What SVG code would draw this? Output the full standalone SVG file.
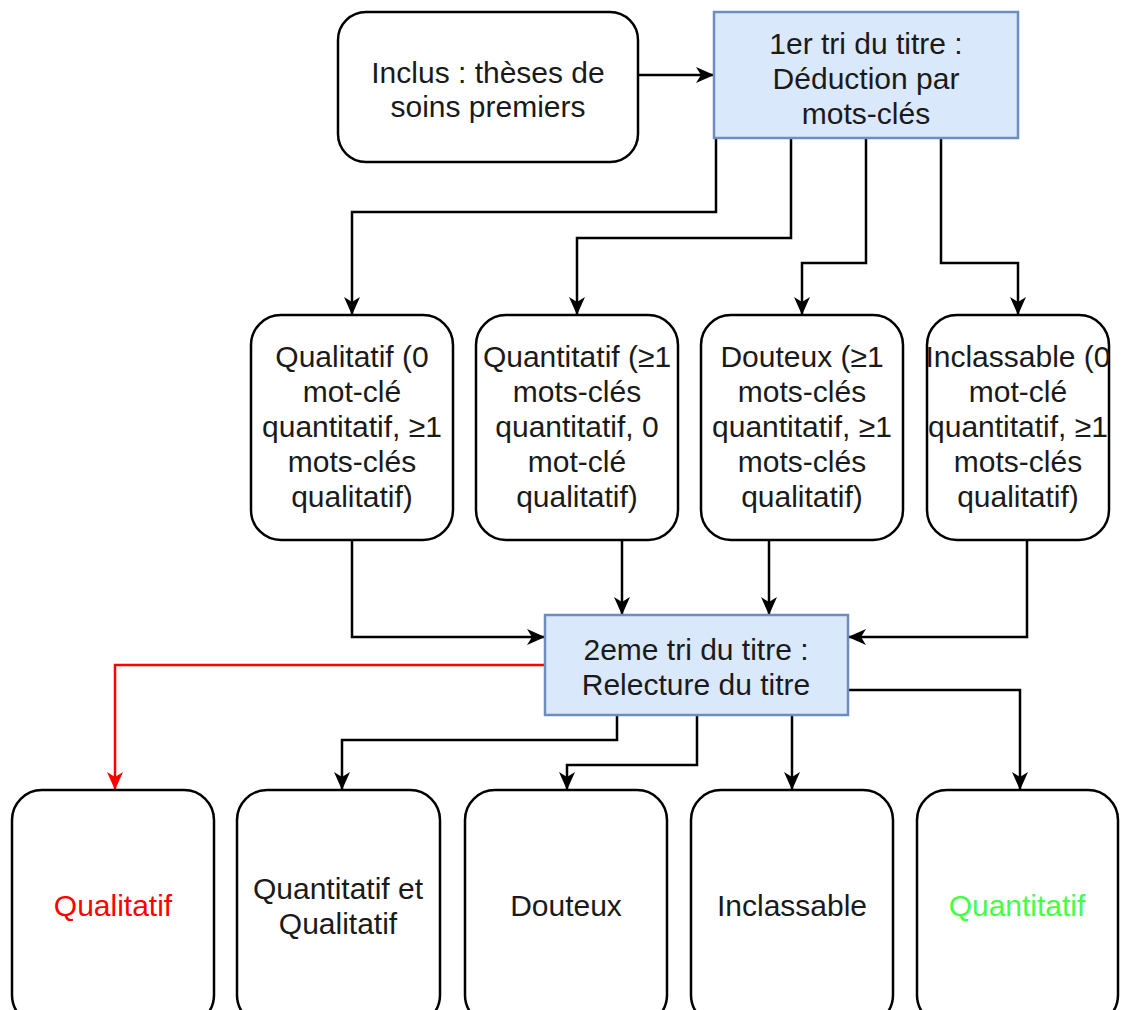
<svg xmlns="http://www.w3.org/2000/svg" width="1125" height="1010" viewBox="0 0 1125 1010">
<style>
.box{fill:#fff;stroke:#000;stroke-width:2.5}
.blue{fill:#dae8fc;stroke:#6c8ebf;stroke-width:2.5}
.t{font-family:"Liberation Sans",Arial,sans-serif;font-size:30px;fill:#1a1a1a;text-anchor:middle}
.c{fill:none;stroke:#000;stroke-width:2.5}
.r{fill:none;stroke:#ff0000;stroke-width:2.5}
</style>
<defs>
<marker id="a" viewBox="0 0 18 16" refX="17" refY="8" markerWidth="18" markerHeight="16" markerUnits="userSpaceOnUse" orient="auto">
<path d="M0,0 L18,8 L0,16 L5,8 z" fill="#000"/>
</marker>
<marker id="ar" viewBox="0 0 18 16" refX="17" refY="8" markerWidth="18" markerHeight="16" markerUnits="userSpaceOnUse" orient="auto">
<path d="M0,0 L18,8 L0,16 L5,8 z" fill="#ff0000"/>
</marker>
</defs>
<g id="connectors">
<path class="c" d="M638,75 H713" marker-end="url(#a)"/>
<path class="c" d="M716,138 V212 H352 V314" marker-end="url(#a)"/>
<path class="c" d="M791,138 V238 H577 V314" marker-end="url(#a)"/>
<path class="c" d="M866,138 V263 H802 V314" marker-end="url(#a)"/>
<path class="c" d="M941,138 V263 H1018 V314" marker-end="url(#a)"/>
<path class="c" d="M352,540 V637 H544" marker-end="url(#a)"/>
<path class="c" d="M622,540 V614" marker-end="url(#a)"/>
<path class="c" d="M769,540 V614" marker-end="url(#a)"/>
<path class="c" d="M1027,540 V637 H849" marker-end="url(#a)"/>
<path class="r" d="M545,665 H115 V789" marker-end="url(#ar)"/>
<path class="c" d="M617,715 V740 H342 V789" marker-end="url(#a)"/>
<path class="c" d="M697,715 V765 H567 V789" marker-end="url(#a)"/>
<path class="c" d="M792,715 V789" marker-end="url(#a)"/>
<path class="c" d="M848,690 H1020 V789" marker-end="url(#a)"/>
</g>
<g id="inclus">
<rect class="box" x="338" y="12" width="300" height="150" rx="28"/>
<text class="t" x="488" y="83">Inclus : thèses de</text>
<text class="t" x="488" y="117">soins premiers</text>
</g>
<g id="tri1">
<rect class="blue" x="714" y="12" width="304" height="126"/>
<text class="t" x="866" y="54">1er tri du titre :</text>
<text class="t" x="866" y="89">Déduction par</text>
<text class="t" x="866" y="124">mots-clés</text>
</g>
<g id="m1">
<rect class="box" x="251" y="315" width="202" height="225" rx="30"/>
<text class="t" x="352" y="367">Qualitatif (0</text>
<text class="t" x="352" y="402">mot-clé</text>
<text class="t" x="352" y="437">quantitatif, ≥1</text>
<text class="t" x="352" y="472">mots-clés</text>
<text class="t" x="352" y="507">qualitatif)</text>
</g>
<g id="m2">
<rect class="box" x="476" y="315" width="202" height="225" rx="30"/>
<text class="t" x="577" y="367">Quantitatif (≥1</text>
<text class="t" x="577" y="402">mots-clés</text>
<text class="t" x="577" y="437">quantitatif, 0</text>
<text class="t" x="577" y="472">mot-clé</text>
<text class="t" x="577" y="507">qualitatif)</text>
</g>
<g id="m3">
<rect class="box" x="701" y="315" width="202" height="225" rx="30"/>
<text class="t" x="802" y="367">Douteux (≥1</text>
<text class="t" x="802" y="402">mots-clés</text>
<text class="t" x="802" y="437">quantitatif, ≥1</text>
<text class="t" x="802" y="472">mots-clés</text>
<text class="t" x="802" y="507">qualitatif)</text>
</g>
<g id="m4">
<rect class="box" x="927" y="315" width="182" height="225" rx="30"/>
<text class="t" x="1018" y="367">Inclassable (0</text>
<text class="t" x="1018" y="402">mot-clé</text>
<text class="t" x="1018" y="437">quantitatif, ≥1</text>
<text class="t" x="1018" y="472">mots-clés</text>
<text class="t" x="1018" y="507">qualitatif)</text>
</g>
<g id="tri2">
<rect class="blue" x="545" y="615" width="303" height="100"/>
<text class="t" x="696" y="660">2eme tri du titre :</text>
<text class="t" x="696" y="695">Relecture du titre</text>
</g>
<g id="b1">
<rect class="box" x="12" y="790" width="202" height="235" rx="30"/>
<text class="t" x="113" y="916" style="fill:#ff0000">Qualitatif</text>
</g>
<g id="b2">
<rect class="box" x="237" y="790" width="203" height="235" rx="30"/>
<text class="t" x="338" y="899">Quantitatif et</text>
<text class="t" x="338" y="934">Qualitatif</text>
</g>
<g id="b3">
<rect class="box" x="465" y="790" width="202" height="235" rx="30"/>
<text class="t" x="566" y="916">Douteux</text>
</g>
<g id="b4">
<rect class="box" x="691" y="790" width="202" height="235" rx="30"/>
<text class="t" x="792" y="916">Inclassable</text>
</g>
<g id="b5">
<rect class="box" x="917" y="790" width="201" height="235" rx="30"/>
<text class="t" x="1017" y="916" style="fill:#44ff44">Quantitatif</text>
</g>
</svg>
